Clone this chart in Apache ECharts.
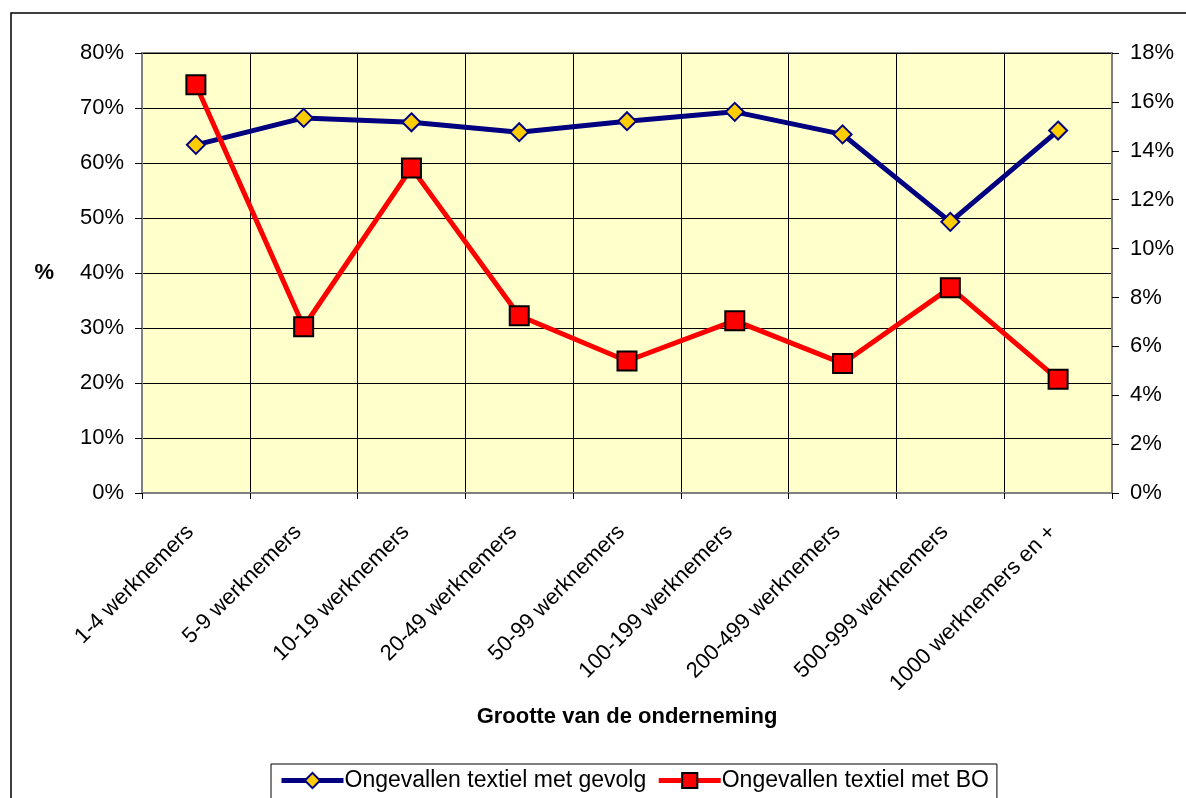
<!DOCTYPE html>
<html>
<head>
<meta charset="utf-8">
<script src="https://cdn.jsdelivr.net/npm/echarts@6/dist/echarts.min.js"></script>
<style>
  html, body { margin: 0; padding: 0; background: #fff; }
  #chart { width: 1186px; height: 798px; }
</style>
</head>
<body>
<div id="chart"></div>
<script>
const categories = [
  '1-4 werknemers', '5-9 werknemers', '10-19 werknemers', '20-49 werknemers',
  '50-99 werknemers', '100-199 werknemers', '200-499 werknemers',
  '500-999 werknemers', '1000 werknemers en +'
]
// links as (%)
const gevolg = [63.3, 68.2, 67.4, 65.6, 67.6, 69.3, 65.2, 49.3, 65.9]
// rechts as (%)
const bo = [16.7, 6.8, 13.3, 7.25, 5.4, 7.05, 5.3, 8.4, 4.65]

const font = 'Arial, "Liberation Sans", sans-serif'
const myChart = echarts.init(document.getElementById('chart'))
myChart.setOption({
  animation: false,
  textStyle: { fontFamily: font },
  graphic: [{
    type: 'rect',
    shape: { x: 11, y: 13, width: 1200, height: 800 },
    style: { fill: 'none', stroke: '#000', lineWidth: 1.5 },
    z: -1
  }],
  grid: {
    left: 142,
    right: 74,
    top: 53,
    bottom: 305,
    show: true,
    backgroundColor: '#FFFFCC',
    borderColor: '#808080',
    borderWidth: 2
  },
  legend: {
    left: 271,
    top: 764,
    padding: [5, 8, 10, 8],
    itemGap: 10,
    itemWidth: 62,
    itemHeight: 19,
    borderColor: '#000',
    borderWidth: 1,
    lineStyle: { width: 5 },
    textStyle: { fontSize: 23, color: '#000', fontFamily: font, padding: [0, 0, 0, -4] },
    data: ['Ongevallen textiel met gevolg', 'Ongevallen textiel met BO']
  },
  xAxis: {
    type: 'category',
    data: categories,
    boundaryGap: true,
    name: 'Grootte van de onderneming',
    nameLocation: 'middle',
    nameGap: 213,
    nameTextStyle: { fontSize: 22, fontWeight: 'bold', color: '#000' },
    axisLine: { lineStyle: { color: '#808080', width: 2 } },
    axisTick: { show: true, length: 6, lineStyle: { color: '#000' } },
    axisLabel: { rotate: 45, fontSize: 22, color: '#000', margin: 30, interval: 0, padding: [0, 8, 0, 0] },
    splitLine: { show: true, lineStyle: { color: '#000', width: 1 } }
  },
  yAxis: [{
    type: 'value',
    min: 0,
    max: 80,
    interval: 10,
    name: '%',
    nameLocation: 'middle',
    nameRotate: 0,
    nameGap: 88,
    nameTextStyle: { fontSize: 22, fontWeight: 'bold', color: '#000' },
    axisLine: { show: true, lineStyle: { color: '#808080', width: 2 } },
    axisTick: { show: true, length: 7, lineStyle: { color: '#000' } },
    axisLabel: { fontSize: 22, color: '#000', margin: 18, formatter: '{value}%' },
    splitLine: { show: true, lineStyle: { color: '#000', width: 1 } }
  }, {
    type: 'value',
    min: 0,
    max: 18,
    interval: 2,
    position: 'right',
    axisLine: { show: true, lineStyle: { color: '#808080', width: 2 } },
    axisTick: { show: true, length: 7, lineStyle: { color: '#000' } },
    axisLabel: { fontSize: 22, color: '#000', margin: 18, formatter: '{value}%' },
    splitLine: { show: false }
  }],
  series: [{
    name: 'Ongevallen textiel met gevolg',
    type: 'line',
    yAxisIndex: 0,
    data: gevolg,
    symbol: 'diamond',
    symbolSize: 18,
    lineStyle: { color: '#000080', width: 5 },
    itemStyle: { color: '#FFCC00', borderColor: '#000080', borderWidth: 2 },
    z: 3
  }, {
    name: 'Ongevallen textiel met BO',
    type: 'line',
    yAxisIndex: 1,
    data: bo,
    symbol: 'rect',
    symbolSize: 19,
    lineStyle: { color: '#FF0000', width: 5 },
    itemStyle: { color: '#FF0000', borderColor: '#000', borderWidth: 2 },
    z: 4
  }]
})
</script>
</body>
</html>
